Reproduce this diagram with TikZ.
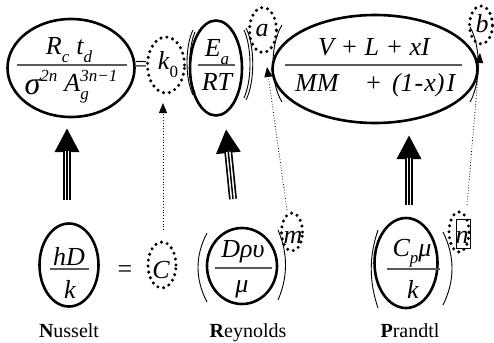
\documentclass[tikz,border=0pt]{standalone}
\usepackage{fontspec}
\setmainfont{Liberation Serif}
\usetikzlibrary{shapes.geometric,arrows.meta}
\newcommand\fb{\fontsize{26}{28}\selectfont\itshape}
\newcommand\fsm{\fontsize{17}{18}\selectfont\itshape}
\newcommand\lo[1]{\raisebox{-0.3em}{\fsm #1}}
\newcommand\hi[1]{\raisebox{0.4em}{\fsm #1}}
\begin{document}
\begin{tikzpicture}[x=1pt,y=-1pt,
  ring/.style={draw, ellipse, line width=2.6pt, inner sep=0pt},
  dotring/.style={draw, ellipse, line width=3.4pt, dash pattern=on 0pt off 6pt, line cap=round, inner sep=0pt},
  txt/.style={inner sep=0pt, anchor=base, font=\fb},
  fracline/.style={draw=black!65, line width=1.2pt},
  paren/.style={line width=0.9pt},
  dotarrow/.style={dotted, line width=0.8pt, -{Triangle[length=10pt,width=8pt]}},
  bigarrow/.style={line width=8pt, -{Triangle[length=24pt,width=23pt]}},
  lbl/.style={inner sep=0pt, anchor=base, font=\fontsize{20}{22}\selectfont}]
\useasboundingbox (0,0) rectangle (494,342);

% ---------- top row ----------
\node[ring, minimum width=127pt, minimum height=98pt] (e1) at (71,68) {};
\node[txt] (e1n) at (69,55) {R\lo{c}\hspace{7pt}t\lo{d}};
\draw[fracline] (17,65) -- (127,65);
\node[txt] (e1d) at (71,92) {\raisebox{-3pt}{\fontsize{32}{32}\selectfont σ}\hi{2n}\hspace{7pt}A\rlap{\lo{g}}\hi{3n−1}};
\node[txt, font=\fontsize{22}{24}\selectfont] (eq1) at (141,72) {=};

\node[dotring, minimum width=37pt, minimum height=56pt] (k0) at (166,65) {};
\node[txt] (k0t) at (168,70) {k\lo{\upshape 0}};

\draw[paren] (193,30) .. controls (185,46) and (185,79) .. (193,95);
\draw[paren] (195,32) .. controls (188,48) and (188,78) .. (195,93);
\node[ring, minimum width=52pt, minimum height=95pt] (ea) at (216,68) {};
\node[txt] (ean) at (217,57) {E\lo{a}};
\draw[fracline] (198,65) -- (235,65);
\node[txt] (ead) at (217,90) {RT};
\draw[paren] (246,28) .. controls (255,46) and (255,82) .. (246,100);
\draw[paren] (244,30) .. controls (252,48) and (252,80) .. (244,98);

\node[dotring, minimum width=27pt, minimum height=45pt] (a) at (263,30) {};
\node[txt] (at) at (262,37) {a};

\draw[paren] (282,25) .. controls (270,44) and (270,83) .. (282,102);
\node[ring, minimum width=205pt, minimum height=108pt] (big) at (375,69) {};
\node[txt] (bign) at (374,56) {V + L + xI};
\draw[fracline] (285,65) -- (462,65);
\node[txt, anchor=base west] (bigd) at (295,92) {MM\hspace{26pt}+\hspace{10pt}(1\hspace{1pt}-\hspace{1pt}x)\hspace{2pt}I};
\draw[paren] (470,27) .. controls (481,46) and (481,83) .. (470,102);

\node[dotring, minimum width=23pt, minimum height=38pt] (b) at (481,25) {};
\node[txt] (bt) at (482,33) {b};

% ---------- bottom row ----------
\node[ring, minimum width=59pt, minimum height=83pt] (nu) at (69,265) {};
\node[txt] (nun) at (69,265) {hD};
\draw[fracline] (50,269) -- (89,269);
\node[txt] (nud) at (70,298) {k};
\node[txt, font=\fontsize{26}{28}\selectfont] (eq2) at (125,277) {=};

\node[dotring, minimum width=28pt, minimum height=46pt] (C) at (162,265) {};
\node[txt] (Ct) at (161,278) {C};

\draw[paren] (207,233) .. controls (195,256) and (195,279) .. (207,302);
\node[ring, minimum width=70pt, minimum height=76pt] (re) at (242,266) {};
\node[txt] (ren) at (243,257) {Dρυ};
\draw[fracline] (215,268) -- (272,268);
\node[txt] (red) at (242,292) {μ};
\draw[paren] (278,230) .. controls (288,253) and (288,277) .. (278,300);

\node[dotring, minimum width=21pt, minimum height=38pt] (m) at (292,232) {};
\node[txt] (mt) at (293,243) {m};

\draw[paren] (378,230) .. controls (369,256) and (369,282) .. (378,308);
\node[ring, minimum width=63pt, minimum height=90pt] (pr) at (406,263) {};
\node[txt] (prn) at (412,256) {C\lo{p}μ};
\draw[fracline] (387,269) -- (440,269);
\node[txt] (prd) at (413,298) {k};
\draw[paren] (443,232) .. controls (455,256) and (455,281) .. (443,305);

\node[dotring, minimum width=20pt, minimum height=40pt] (n) at (459,232) {};
\node[draw, line width=0.6pt, minimum width=14pt, minimum height=29pt, inner sep=0pt] (nbox) at (463,233.5) {};
\node[txt] (nt) at (462,243) {n};

% ---------- labels ----------
\node[lbl] (l1) at (69,337) {\textbf{N}usselt};
\node[lbl] (l2) at (248,337) {\textbf{R}eynolds};
\node[lbl] (l3) at (410,337) {\textbf{P}randtl};

% ---------- big arrows ----------
\coordinate (nuS) at (67,200);  \coordinate (nuT) at (67,128);
\coordinate (reS) at (233,199); \coordinate (reT) at (226,129);
\coordinate (prS) at (409,205); \coordinate (prT) at (409,135);
\foreach \s/\t in {nuS/nuT, reS/reT, prS/prT}{
  \draw[bigarrow] (\s) -- (\t);
  \draw[white, line width=4.6pt, shorten >=23pt] (\s) -- (\t);
  \draw[line width=1.5pt, shorten >=23pt] (\s) -- (\t);
}

% ---------- dotted arrows ----------
\coordinate (cS) at (163,230); \coordinate (cT) at (163,103);
\coordinate (mS) at (287,210); \coordinate (mT) at (267,67);
\coordinate (nS) at (467,205); \coordinate (nT) at (480,53);
\draw[dotarrow] (cS) -- (cT);
\draw[dotarrow] (mS) -- (mT);
\draw[dotarrow] (nS) -- (nT);
\end{tikzpicture}
\end{document}
